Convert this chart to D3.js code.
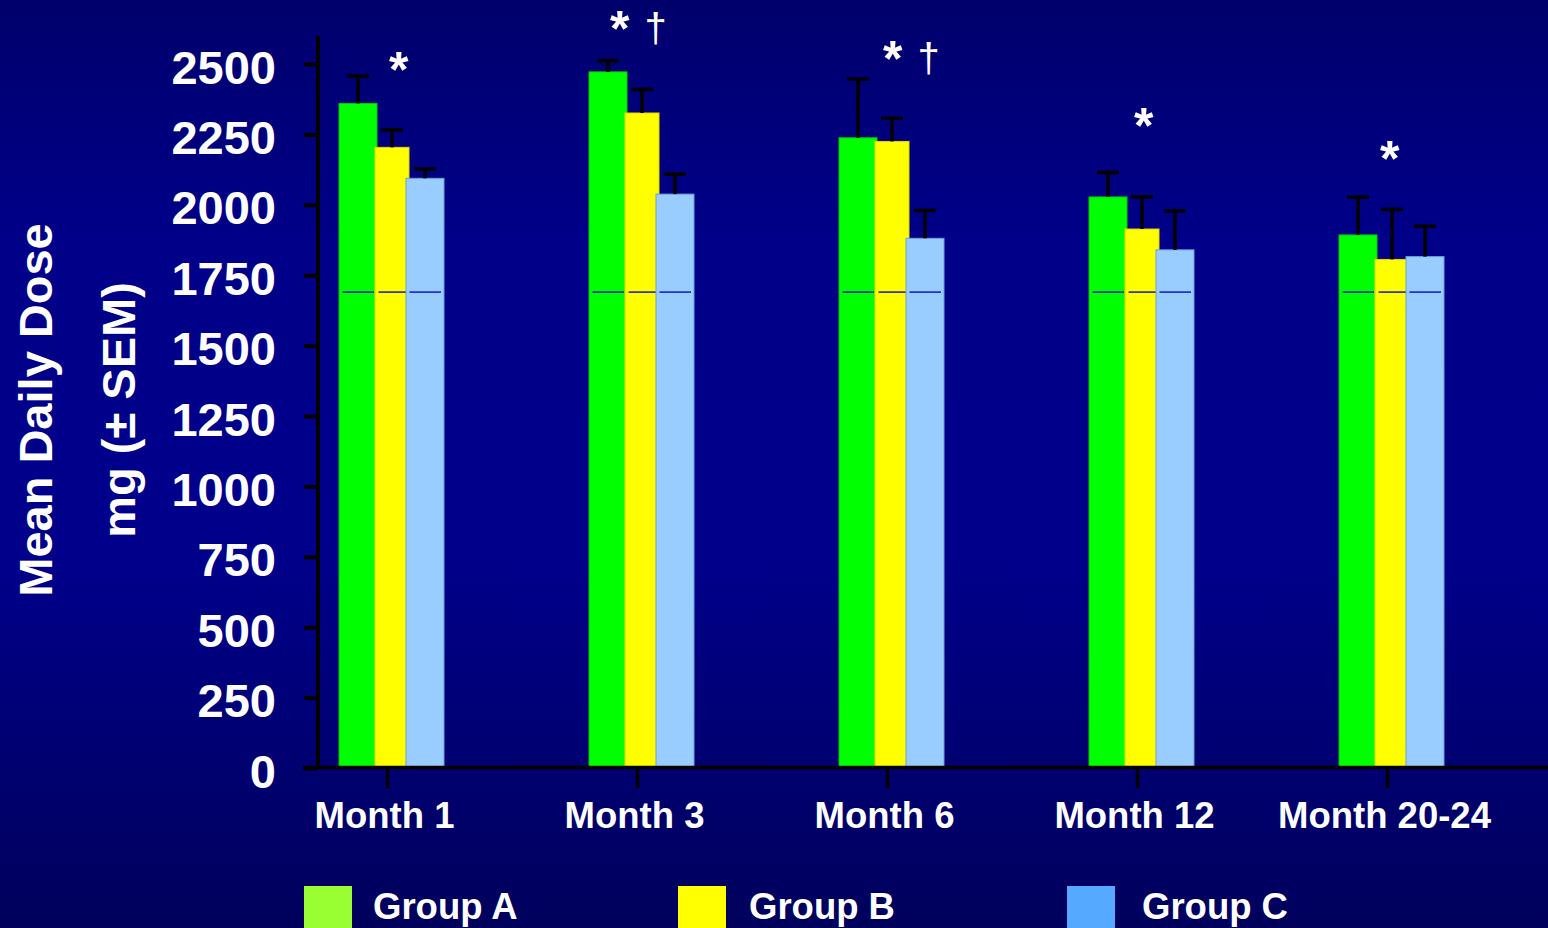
<!DOCTYPE html>
<html>
<head>
<meta charset="utf-8">
<script src="https://cdn.jsdelivr.net/npm/d3@7/dist/d3.min.js"></script>
<style>
  html, body { margin: 0; padding: 0; background: #000080; }
  svg { display: block; }
  text { font-family: "Liberation Sans", Arial, sans-serif; fill: #ffffff; }
</style>
</head>
<body>
<svg id="chart" width="1548" height="928"></svg>
<script>
// Mean daily dose (mg) per visit, by treatment group
const categories = ["Month 1", "Month 3", "Month 6", "Month 12", "Month 20-24"];
const groups = ["Group A", "Group B", "Group C"];
const groupA = [2360, 2472, 2238, 2028, 1893];
const groupB = [2204, 2326, 2225, 1914, 1806];
const groupC = [2094, 2038, 1881, 1840, 1816];
const semA = [97, 40, 208, 87, 134];
const semB = [62, 84, 82, 114, 178];
const semC = [33, 71, 99, 138, 108];
const referenceDose = 1690;
const yTicks = [0, 250, 500, 750, 1000, 1250, 1500, 1750, 2000, 2250, 2500];
// significance markers above each visit, with the dose level of their baseline
const notes = ["*", "* \u2020", "* \u2020", "*", "*"];
const noteLevels = [2420, 2565, 2458, 2218, 2102];

const barColors = ["#00ff00", "#ffff00", "#99ccff"];
const barEdges = ["#00cc00", "#e6d800", "#6f9fd8"];
const legendColors = ["#99ff33", "#ffff00", "#55aaff"];

const svg = d3.select("#chart");
const W = 1548, H = 928;

// background
const defs = svg.append("defs");
const grad = defs.append("linearGradient").attr("id", "bg")
  .attr("x1", 0).attr("y1", 0).attr("x2", 0).attr("y2", 1);
grad.append("stop").attr("offset", "0%").attr("stop-color", "#00006c");
grad.append("stop").attr("offset", "25%").attr("stop-color", "#000088");
grad.append("stop").attr("offset", "60%").attr("stop-color", "#00008b");
grad.append("stop").attr("offset", "100%").attr("stop-color", "#00005c");
svg.append("rect").attr("width", W).attr("height", H).attr("fill", "url(#bg)");

const x = d3.scalePoint().domain(categories).range([387, 1387]);
const y = d3.scaleLinear().domain([0, 2500]).range([768, 64]);

// bar placement relative to each visit tick
const barOffset = [-48, -12, 19];
const barWidth = [38, 34, 38];

const series = [groupA, groupB, groupC].map((vals, i) =>
  vals.map((v, j) => ({ cat: categories[j], value: v, sem: [semA, semB, semC][i][j], s: i })));

const plot = svg.append("g");
series.forEach((data, i) => {
  const g = plot.append("g");
  g.selectAll("rect").data(data).join("rect")
    .attr("x", d => x(d.cat) + barOffset[i])
    .attr("y", d => y(d.value))
    .attr("width", barWidth[i])
    .attr("height", d => y(0) - y(d.value))
    .attr("fill", barColors[i])
    .attr("stroke", barEdges[i])
    .attr("stroke-width", 1);
  g.selectAll("line.ref").data(data).join("line").attr("class", "ref")
    .attr("x1", d => x(d.cat) + barOffset[i] + 3.5)
    .attr("x2", d => x(d.cat) + barOffset[i] + barWidth[i] - 3)
    .attr("y1", y(referenceDose)).attr("y2", y(referenceDose))
    .attr("stroke", "#1414c8").attr("stroke-width", 1.5);
});

// error bars (+1 SEM)
series.forEach((data, i) => {
  const g = plot.append("g");
  const cx = d => x(d.cat) + barOffset[i] + barWidth[i] / 2;
  g.selectAll("line.stem").data(data).join("line").attr("class", "stem")
    .attr("x1", cx).attr("x2", cx)
    .attr("y1", d => y(d.value)).attr("y2", d => y(d.value + d.sem))
    .attr("stroke", "#000").attr("stroke-width", 3.5);
  g.selectAll("line.cap").data(data).join("line").attr("class", "cap")
    .attr("x1", d => cx(d) - 11).attr("x2", d => cx(d) + 11)
    .attr("y1", d => y(d.value + d.sem)).attr("y2", d => y(d.value + d.sem))
    .attr("stroke", "#000").attr("stroke-width", 3.5);
});

// y axis
const yAxis = svg.append("g").attr("transform", "translate(318,0)")
  .call(d3.axisLeft(y).tickValues(yTicks).tickFormat(d3.format("d"))
    .tickSize(14).tickPadding(28));
yAxis.select(".domain").remove();
yAxis.selectAll(".tick line").attr("stroke", "#000").attr("stroke-width", 4);
yAxis.selectAll(".tick text")
  .attr("font-size", 47).attr("font-weight", "bold")
  .attr("fill", "#fff").attr("dy", 19)
  .style("font-family", "'Liberation Sans', Arial, sans-serif");
svg.append("line").attr("x1", 318).attr("x2", 318).attr("y1", 36).attr("y2", 769)
  .attr("stroke", "#000").attr("stroke-width", 4);

// x axis
const xAxis = svg.append("g").attr("transform", "translate(0,768)")
  .call(d3.axisBottom(x).tickSize(20).tickPadding(0));
xAxis.select(".domain").remove();
xAxis.selectAll(".tick line").attr("stroke", "#000").attr("stroke-width", 3.5);
xAxis.selectAll(".tick text")
  .attr("font-size", 36.5).attr("font-weight", "bold")
  .attr("fill", "#fff").attr("y", 60).attr("dy", 0).attr("dx", -3)
  .style("font-family", "'Liberation Sans', Arial, sans-serif");
svg.append("line").attr("x1", 303).attr("x2", W).attr("y1", 767.5).attr("y2", 767.5)
  .attr("stroke", "#000").attr("stroke-width", 3.5);

// axis titles
svg.append("text").attr("transform", "translate(52,410) rotate(-90)")
  .attr("text-anchor", "middle").attr("font-size", 47).attr("font-weight", "bold")
  .text("Mean Daily Dose");
svg.append("text").attr("transform", "translate(135,410) rotate(-90)")
  .attr("text-anchor", "middle").attr("font-size", 47).attr("font-weight", "bold")
  .text("mg (\u00b1 SEM)");

// significance markers
const noteShift = [11, -18, 5, 6, 2];
const noteG = svg.append("g");
categories.forEach((c, j) => {
  const parts = notes[j].split(" ");
  const t = noteG.append("text")
    .attr("x", x(c) + noteShift[j] - 9)
    .attr("y", y(noteLevels[j]));
  t.append("tspan").attr("font-size", 50).attr("font-weight", "bold").text(parts[0]);
  if (parts[1]) {
    t.append("tspan").attr("dx", 15).attr("dy", -4).attr("font-size", 40)
      .attr("font-weight", "normal").text(parts[1]);
  }
});

// legend
const legendX = [304, 678, 1067];
const legendTextX = [373, 749, 1142];
const legend = svg.append("g");
groups.forEach((gname, i) => {
  legend.append("rect").attr("x", legendX[i]).attr("y", 886)
    .attr("width", 48).attr("height", 42).attr("fill", legendColors[i]);
  legend.append("text").attr("x", legendTextX[i]).attr("y", 919)
    .attr("font-size", 36.5).attr("font-weight", "bold").text(gname);
});
</script>
</body>
</html>
